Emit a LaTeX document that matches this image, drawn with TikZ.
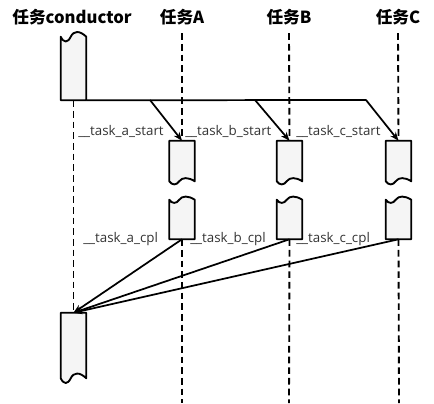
\documentclass[tikz,border=0pt]{standalone}
\usepackage{fontspec}
\setmainfont{Noto Sans CJK SC}
\newfontfamily\lblfont{Open Sans}
\usetikzlibrary{arrows.meta,calc}

% box with a torn top edge: node name, wave amplitude
\newcommand{\torntop}[2]{%
  \draw[outline] (#1.south west) -- (#1.north west)
    .. controls ($(#1.north west)+(3,1.4*#2)$) and ($(#1.north west)+(7,1.4*#2)$) .. ($(#1.north west)+(10,0)$)
    .. controls ($(#1.north west)+(13,-1.4*#2)$) and ($(#1.north west)+(19,-1.4*#2)$) .. (#1.north east)
    -- (#1.south east) -- cycle;}
% box with a torn bottom edge
\newcommand{\tornbot}[2]{%
  \draw[outline] (#1.north west) -- (#1.south west)
    .. controls ($(#1.south west)+(3,1.4*#2)$) and ($(#1.south west)+(7,1.4*#2)$) .. ($(#1.south west)+(10,0)$)
    .. controls ($(#1.south west)+(13,-1.4*#2)$) and ($(#1.south west)+(19,-1.4*#2)$) .. (#1.south east)
    -- (#1.north east) -- cycle;}

\begin{document}
\begin{tikzpicture}[
  x=0.75pt, y=-0.75pt,
  >={Stealth[length=2.3mm,width=1.8mm]},
  title/.style  ={font=\bfseries\fontsize{12.5}{14}\selectfont,inner sep=0pt},
  lbl/.style    ={font=\lblfont\fontsize{10}{12}\selectfont,text=black!80,
                  inner sep=0pt,anchor=west},
  actbox/.style ={rectangle,inner sep=0pt,minimum width=18.75pt},
  outline/.style={draw=black,line width=1.4pt,fill=black!4,line join=round},
  life/.style   ={draw=black,line width=1.4pt,dash pattern=on 5pt off 3pt},
  msg/.style    ={->,line width=1.3pt,line join=round},
]
\useasboundingbox (0,0) rectangle (434,403);

% ===================== task heads =======================================
\node[title] (Tcd) at (72,17)  {任务conductor};
\node[title] (Ta)  at (182,17) {任务A};
\node[title] (Tb)  at (289,17) {任务B};
\node[title] (Tc)  at (398,17) {任务C};

% ===================== activation boxes =================================
\node[actbox,minimum height=47.25pt] (Cs) at (73.5,68.5)  {};
\node[actbox,minimum height=48.75pt] (Cl) at (73.5,345.5) {};

\node[actbox,minimum height=30pt]    (A1) at (182,161)    {};
\node[actbox,minimum height=29.25pt] (A2) at (182,219.5)  {};
\node[actbox,minimum height=30pt]    (B1) at (289.5,161)  {};
\node[actbox,minimum height=29.25pt] (B2) at (289.5,219.5){};
\node[actbox,minimum height=30pt]    (C1) at (398.5,161)  {};
\node[actbox,minimum height=29.25pt] (C2) at (398.5,219.5){};

\coordinate (Aend) at (182,403);
\coordinate (Bend) at (289,403);
\coordinate (Cend) at (399,403);

% ===================== lifelines ========================================
\draw[life] (Cs.south) -- (Cl.north);
\draw[life] ([yshift=-6pt]Ta.south) -- (A1.north);
\draw[life] (A2.south) -- (Aend);
\draw[life] ([yshift=-6pt]Tb.south) -- (B1.north);
\draw[life] (B2.south) -- (Bend);
\draw[life] ([yshift=-6pt]Tc.south) -- (C1.north);
\draw[life] (C2.south) -- (Cend);

\torntop{Cs}{4.5}
\tornbot{Cl}{4.5}
\tornbot{A1}{3}
\torntop{A2}{3}
\tornbot{B1}{3}
\torntop{B2}{3}
\tornbot{C1}{3}
\torntop{C2}{3}

% ===================== start messages ===================================
\coordinate (jA) at (150,100);
\coordinate (jB) at (255,100);
\coordinate (jC) at (366,100);

\draw[msg] (Cs.south east) -- (jC) -- (C1.north);
\draw[msg] (jA) -- (A1.north);
\draw[msg] (jB) -- (B1.north);

\node[lbl] (Sa) at (78,131)  {\_\_task\_a\_start};
\node[lbl] (Sb) at (185,131) {\_\_task\_b\_start};
\node[lbl] (Sc) at (296,131) {\_\_task\_c\_start};

% ===================== completion messages ==============================
\draw[msg] (A2.south) -- (Cl.north);
\draw[msg] (B2.south) -- (Cl.north);
\draw[msg] (C2.south) -- (Cl.north);

\node[lbl] (Ea) at (83,239)  {\_\_task\_a\_cpl};
\node[lbl] (Eb) at (190,239) {\_\_task\_b\_cpl};
\node[lbl] (Ec) at (296,239) {\_\_task\_c\_cpl};

\end{tikzpicture}
\end{document}
